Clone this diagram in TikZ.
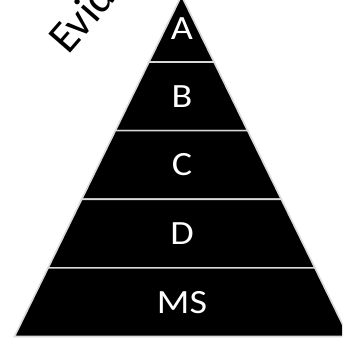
\documentclass[tikz,border=0pt]{standalone}
\usepackage{fontspec}
\setmainfont{Carlito}
\usetikzlibrary{positioning}

\begin{document}
\begin{tikzpicture}[x=1pt,y=1pt,
		layer/.style={fill=black,draw=black!15,line width=1.6pt,line join=miter},
		lbl/.style={text=white,font=\fontsize{34}{40}\selectfont,inner sep=0pt,xscale=1.12},
		ev/.style={text=black,font=\fontsize{45}{52}\selectfont,inner sep=0pt,rotate=49,anchor=base west}]
		
		% Frame
		\useasboundingbox (0,0) rectangle (342,344);
		\clip (0,0) rectangle (342,344);
		\fill[white] (0,0) rectangle (342,344);
		
		% Corner points of the layers
		\coordinate (top) at (181.5,348.3);
		\coordinate (l1) at (149,282);    \coordinate (r1) at (214,282);
		\coordinate (l2) at (115.4,213.4); \coordinate (r2) at (247.6,213.4);
		\coordinate (l3) at (81.7,144.7);  \coordinate (r3) at (281.3,144.7);
		\coordinate (l4) at (48.1,76.1);   \coordinate (r4) at (314.9,76.1);
		\coordinate (l5) at (14.5,7.5);    \coordinate (r5) at (348.5,7.5);
		
		% Draw layers
		\draw[layer] (top) -- (r1) -- (l1) -- cycle;
		\draw[layer] (l1) -- (r1) -- (r2) -- (l2) -- cycle;
		\draw[layer] (l2) -- (r2) -- (r3) -- (l3) -- cycle;
		\draw[layer] (l3) -- (r3) -- (r4) -- (l4) -- cycle;
		\draw[layer] (l4) -- (r4) -- (r5) -- (l5) -- cycle;
		
		% Layer labels
		\node[lbl] (a) at (182,315.5) {A};
		\node[lbl] (b) at (182,247.7) {B};
		\node[lbl] (c) at (182,179) {C};
		\node[lbl] (d) at (182,110.4) {D};
		\node[lbl] (ms) at (182,41.8) {MS};
		
		% Slanted title
		\node[ev] (evidence) at (68,288) {Evidence};
		
		\end{tikzpicture}
\end{document}
